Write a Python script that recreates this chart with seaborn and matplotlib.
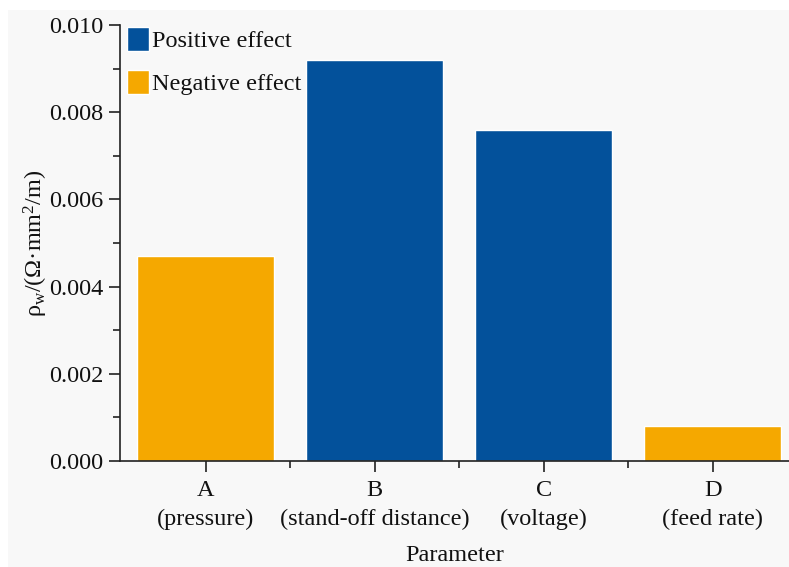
import matplotlib
matplotlib.use("Agg")
import matplotlib.pyplot as plt
import seaborn as sns
import pandas as pd
from matplotlib.ticker import MultipleLocator, FixedLocator
from matplotlib.patches import Rectangle, Patch

categories = ["A\n(pressure)", "B\n(stand-off distance)", "C\n(voltage)", "D\n(feed rate)"]
values = [0.0047, 0.0092, 0.0076, 0.0008]
effects = ["Negative effect", "Positive effect", "Positive effect", "Negative effect"]
palette = {"Positive effect": "#03519b", "Negative effect": "#f5a800"}

sns.set_theme(style="ticks")
plt.rcParams["font.family"] = ["Liberation Serif", "DejaVu Serif"]
plt.rcParams["mathtext.fontset"] = "custom"
plt.rcParams["mathtext.rm"] = "Liberation Serif"
plt.rcParams["mathtext.it"] = "Liberation Serif:italic"

df = pd.DataFrame({"Parameter": categories, "value": values, "effect": effects})

fig = plt.figure(figsize=(7.89, 5.67), dpi=100, facecolor="white")
fig.patches.append(Rectangle((8/789, 0), 1, 1 - 10/567, transform=fig.transFigure,
                             facecolor="#f8f8f8", edgecolor="none", zorder=-10))
ax = fig.add_axes([120/789, 1 - 461/567, (789-120)/789, (461-25)/567])
ax.set_facecolor("none")

sns.barplot(data=df, x="Parameter", y="value", hue="effect", palette=palette,
            dodge=False, width=0.81, saturation=1, ax=ax, legend=False)

ax.set_ylim(0, 0.010)
ax.set_xlim(-0.507, 3.45)
ax.yaxis.set_major_locator(MultipleLocator(0.002))
ax.yaxis.set_minor_locator(MultipleLocator(0.001))
ax.yaxis.set_major_formatter(matplotlib.ticker.FormatStrFormatter("%.3f"))
ax.xaxis.set_minor_locator(FixedLocator([0.5, 1.5, 2.5]))
ax.tick_params(axis="both", which="major", direction="out", length=8, width=1.2,
               labelsize=17.5, color="#222222", labelcolor="#111111")
ax.tick_params(axis="both", which="minor", direction="out", length=5, width=1.2, color="#222222")
ax.tick_params(axis="x", pad=6)
ax.tick_params(axis="y", pad=4)
for lbl in ax.get_xticklabels():
    lbl.set_linespacing(1.45)

for s in ["top", "right"]:
    ax.spines[s].set_visible(False)
for s in ["left", "bottom"]:
    ax.spines[s].set_linewidth(1.2)
    ax.spines[s].set_color("#222222")

ax.set_xlabel("Parameter", fontsize=17.5, labelpad=11, color="#111111")
ax.set_ylabel(r"ρ$_{\mathrm{w}}$/(Ω·mm$^{2}$/m)", fontsize=17.5, labelpad=-1, color="#111111")

handles = [Patch(facecolor=palette["Positive effect"], label="Positive effect"),
           Patch(facecolor=palette["Negative effect"], label="Negative effect")]
leg = ax.legend(handles=handles, loc="upper left", bbox_to_anchor=(-0.015, 1.034), frameon=False,
          fontsize=17.5, handlelength=0.92, handleheight=1.1, handletextpad=0.12,
          labelspacing=0.75, borderaxespad=0.3)
for t in leg.get_texts():
    t.set_color("#111111")

fig.savefig("out.png", dpi=100, facecolor=fig.get_facecolor())
